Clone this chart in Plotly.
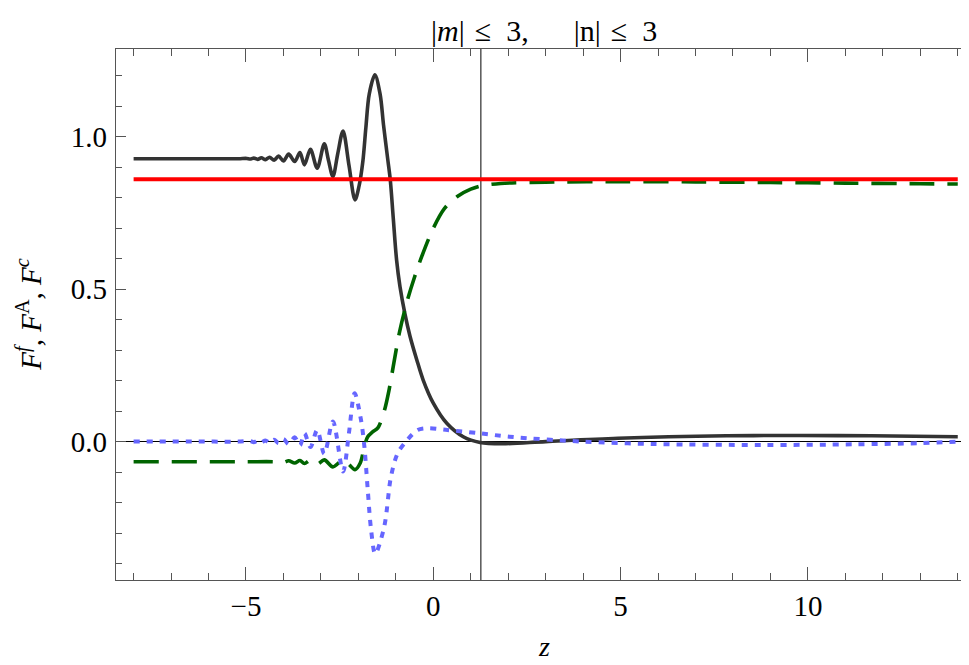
import plotly.graph_objects as go

# ---------------- data ----------------
black_z = [-8.0, -6.0, -5.2, -4.98, -4.89, -4.79, -4.69, -4.59, -4.48, -4.37, -4.25, -4.13, -4.00,
           -3.86, -3.70, -3.56, -3.44, -3.28, -3.10, -2.91, -2.80, -2.68, -2.55, -2.41, -2.25,
           -2.09, -1.98, -1.88, -1.80, -1.71, -1.56, -1.42, -1.33, -1.22, -1.15, -1.07, -0.98,
           -0.89, -0.76, -0.62, -0.44, -0.27, 0.0, 0.36, 0.80, 1.25, 1.84, 3.0, 4.93, 7.83,
           9.77, 11.7, 14.0]
black_F = [0.928, 0.928, 0.928, 0.929, 0.927, 0.930, 0.926, 0.931, 0.925, 0.933, 0.923, 0.937, 0.921,
           0.943, 0.919, 0.948, 0.908, 0.959, 0.897, 0.977, 0.924, 0.870, 0.945, 1.019, 0.906,
           0.793, 0.840, 0.920, 1.030, 1.140, 1.203, 1.140, 1.040, 0.930, 0.861, 0.735, 0.596,
           0.509, 0.421, 0.345, 0.268, 0.202, 0.126, 0.060, 0.016, -0.003, -0.007, 0.000, 0.011, 0.019,
           0.020, 0.019, 0.016]

green_z = [-8.0, -5.0, -4.25, -4.00, -3.86, -3.70, -3.56, -3.44, -3.28, -3.10, -2.91, -2.68, -2.41,
           -2.25, -2.09, -1.95, -1.84, -1.75, -1.62, -1.48, -1.31, -1.18, -1.05, -0.90, -0.70,
           -0.50, -0.30, 0.0, 0.30, 0.65, 1.0, 1.27, 1.8, 3.0, 5.0, 7.0, 9.0, 11.0, 13.0, 14.0]
green_F = [-0.066, -0.066, -0.066, -0.068, -0.063, -0.070, -0.062, -0.072, -0.061, -0.074, -0.060, -0.083, -0.060,
           -0.075, -0.092, -0.070, -0.016, 0.016, 0.032, 0.045, 0.100, 0.170, 0.260, 0.360, 0.460,
           0.540, 0.610, 0.700, 0.765, 0.805, 0.828, 0.839, 0.847, 0.851, 0.853, 0.852, 0.850, 0.848, 0.846, 0.845]

blue_z = [-8.0, -6.0, -5.2, -4.89, -4.79, -4.69, -4.59, -4.48, -4.37, -4.25, -4.13, -4.00, -3.86,
          -3.70, -3.56, -3.44, -3.28, -3.10, -2.91, -2.68, -2.41, -2.25, -2.10, -1.93, -1.84,
          -1.75, -1.66, -1.55, -1.31, -1.13, -0.95, -0.69, -0.42, -0.15, 0.38, 1.26, 2.03,
          3.97, 5.9, 8.8, 11.2, 13.0, 14.0]
blue_F = [0.0, 0.0, 0.0, 0.002, -0.002, 0.003, -0.003, 0.004, -0.004, 0.006, -0.005, 0.008, -0.008,
          0.014, -0.012, 0.027, -0.018, 0.038, -0.040, 0.066, -0.098, 0.030, 0.159, 0.071, -0.016,
          -0.158, -0.290, -0.368, -0.279, -0.115, -0.038, 0.006, 0.038, 0.044, 0.038, 0.027, 0.016,
          0.0, -0.008, -0.011, -0.009, -0.005, 0.0]

red_z = [-8.0, 14.0]
red_F = [0.861, 0.861]

z_marker = 1.27

x_tick_vals = [-5, 0, 5, 10]
x_tick_text = ["\u22125", "0", "5", "10"]
x_minor_vals = [v for v in range(-8, 15) if v not in x_tick_vals]
y_tick_vals = [0.0, 0.5, 1.0]
y_tick_text = ["0.0", "0.5", "1.0"]
y_minor_vals = [round(-0.4 + 0.1 * i, 1) for i in range(17) if round(-0.4 + 0.1 * i, 1) not in y_tick_vals]

title_text = "|<i>m</i>|\u2004\u2264\u20023,\u2003\u2002|n|\u2004\u2264\u20023"
x_title = "<i>z</i>"
y_title = "<i>F</i><sup><i>f</i></sup>, <i>F</i><sup>A</sup>, <i>F</i><sup><i>c</i></sup>"

FONT = "Liberation Serif"

fig = go.Figure()
fig.add_trace(go.Scatter(x=black_z, y=black_F, mode="lines", line=dict(color="#333333", width=3.6, shape="spline", smoothing=0.9), showlegend=False))
fig.add_trace(go.Scatter(x=green_z, y=green_F, mode="lines", line=dict(color="#006400", width=3.6, dash="25px,13px", shape="spline", smoothing=0.9), showlegend=False))
fig.add_trace(go.Scatter(x=blue_z, y=blue_F, mode="lines", line=dict(color="#6666ff", width=4, dash="6px,7px", shape="spline", smoothing=0.9), showlegend=False))
fig.add_trace(go.Scatter(x=red_z, y=red_F, mode="lines", line=dict(color="#ff0000", width=4), showlegend=False))

fig.add_shape(type="line", xref="x", yref="paper", x0=z_marker, x1=z_marker, y0=0, y1=1,
              line=dict(color="black", width=1), layer="below")

# title and axis titles as annotations (paper coordinates)
fig.add_annotation(text=title_text, xref="paper", yref="paper", x=0.502, y=1.034,
                   xanchor="center", yanchor="middle", showarrow=False,
                   font=dict(family=FONT, size=30, color="black"))
fig.add_annotation(text=x_title, xref="paper", yref="paper", x=0.502, y=-0.158,
                   xanchor="center", yanchor="bottom", showarrow=False,
                   font=dict(family=FONT, size=28, color="black"))
fig.add_annotation(text=y_title, xref="paper", yref="paper", x=-0.103, y=0.5,
                   xanchor="center", yanchor="middle", textangle=-90, showarrow=False,
                   font=dict(family=FONT, size=29, color="black"))

axis_col = "#555555"
fig.update_layout(
    width=961, height=657,
    margin=dict(l=108, r=0, t=41, b=85, autoexpand=False),
    paper_bgcolor="white", plot_bgcolor="white",
    font=dict(family=FONT, size=29, color="black"),
    xaxis=dict(range=[-8.47, 14.3], showgrid=False, zeroline=False, automargin=False,
               showline=True, linecolor=axis_col, linewidth=1.2, mirror="allticks",
               tickmode="array", tickvals=x_tick_vals, ticktext=x_tick_text,
               ticks="inside", ticklen=13, tickwidth=1, tickcolor=axis_col,
               minor=dict(tickvals=x_minor_vals, ticks="inside", ticklen=7, tickwidth=1, tickcolor=axis_col),
               ticklabelstandoff=0),
    yaxis=dict(range=[-0.454, 1.288], showgrid=False, automargin=False,
               zeroline=True, zerolinecolor="black", zerolinewidth=1,
               showline=True, linecolor=axis_col, linewidth=1.2, mirror=False,
               tickmode="array", tickvals=y_tick_vals, ticktext=y_tick_text,
               ticks="inside", ticklen=10, tickwidth=1, tickcolor=axis_col,
               minor=dict(tickvals=y_minor_vals, ticks="inside", ticklen=6, tickwidth=1, tickcolor=axis_col),
               ticklabelstandoff=2),
)

fig.write_html("out.html")
